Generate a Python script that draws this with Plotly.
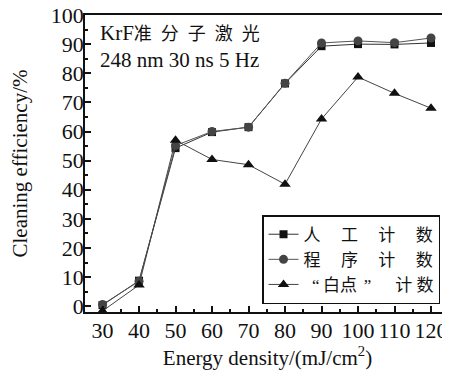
import plotly.graph_objects as go

energy = [30, 40, 50, 60, 70, 80, 90, 100, 110, 120]
manual = [0.4, 8.8, 54.3, 59.8, 61.5, 76.5, 89.3, 90.0, 89.9, 90.4]
program = [0.6, 8.6, 55.2, 60.0, 61.5, 76.6, 90.4, 91.1, 90.5, 92.1]
white_dot = [-1.6, 7.3, 57.0, 50.4, 48.6, 41.9, 64.3, 78.7, 73.1, 68.0]

GAP = "\u2003\u2009"
names = [GAP.join("人工计数"), GAP.join("程序计数"),
         "\u2002“\u2009白点\u2009\u2009”\u2003\u2009\u2009计\u2005数"]

FONT = "Liberation Serif, Noto Sans CJK SC, serif"
INK = "#111111"

fig = go.Figure()
fig.add_trace(go.Scatter(x=energy, y=manual, mode="lines+markers", name=names[0],
                         line=dict(color="#333333", width=1),
                         marker=dict(symbol="square", size=8, color=INK)))
fig.add_trace(go.Scatter(x=energy, y=program, mode="lines+markers", name=names[1],
                         line=dict(color="#555555", width=1),
                         marker=dict(symbol="circle", size=9, color="#444444")))
fig.add_trace(go.Scatter(x=energy, y=white_dot, mode="lines+markers", name=names[2],
                         line=dict(color="#444444", width=1),
                         marker=dict(symbol="triangle-up", size=10, color=INK),
                         cliponaxis=False))

cn = "\u2002".join("准分子激光")
fig.add_annotation(x=0.0356, y=0.939, xref="paper", yref="paper", xanchor="left", yanchor="middle",
                   text="KrF<span style='font-size:18px'>" + cn + "</span>", showarrow=False,
                   font=dict(family=FONT, size=21, color=INK))
fig.add_annotation(x=0.0356, y=0.848, xref="paper", yref="paper", xanchor="left", yanchor="middle",
                   text="248 nm 30 ns 5 Hz", showarrow=False,
                   font=dict(family=FONT, size=21, color=INK))

# page body has an 8px margin, so the figure is sized/offset to compensate
fig.update_layout(
    width=442, height=367,
    margin=dict(l=77, r=0, t=7, b=63, autoexpand=False),
    paper_bgcolor="white", plot_bgcolor="white",
    font=dict(family=FONT, size=21, color=INK),
    showlegend=True,
    legend=dict(x=0.485, y=0.326, xanchor="left", yanchor="top",
                bordercolor=INK, borderwidth=1.5, bgcolor="white",
                font=dict(family=FONT, size=17, color=INK),
                tracegroupgap=0, itemwidth=30),
)
fig.update_xaxes(range=[25.2, 125.2], tickvals=energy,
                 ticks="inside", ticklen=6, tickwidth=1.5, tickcolor=INK,
                 minor=dict(ticks="inside", ticklen=3, dtick=5, tick0=25, tickcolor=INK, tickwidth=1.5),
                 showline=True, linecolor=INK, linewidth=1.5, mirror=True,
                 showgrid=False, zeroline=False, ticklabelstandoff=-2,
                 ticklabeloverflow="allow",
                 tickfont=dict(family=FONT, size=22, color=INK),
                 title=dict(text="Energy density/(mJ/cm<sup>2</sup>)", standoff=5,
                            font=dict(family=FONT, size=21, color=INK)))
fig.update_yaxes(range=[-1.96, 100], tickvals=[0, 10, 20, 30, 40, 50, 60, 70, 80, 90, 100],
                 ticks="inside", ticklen=6, tickwidth=1.5, tickcolor=INK,
                 minor=dict(ticks="inside", ticklen=3, dtick=5, tick0=0, tickcolor=INK, tickwidth=1.5),
                 showline=True, linecolor=INK, linewidth=1.5,
                 showgrid=False, zeroline=False, ticklabelstandoff=-5,
                 ticklabeloverflow="allow",
                 tickfont=dict(family=FONT, size=22, color=INK),
                 title=dict(text="Cleaning efficiency/%", standoff=32,
                            font=dict(family=FONT, size=21, color=INK)))

fig.write_html("out.html")
